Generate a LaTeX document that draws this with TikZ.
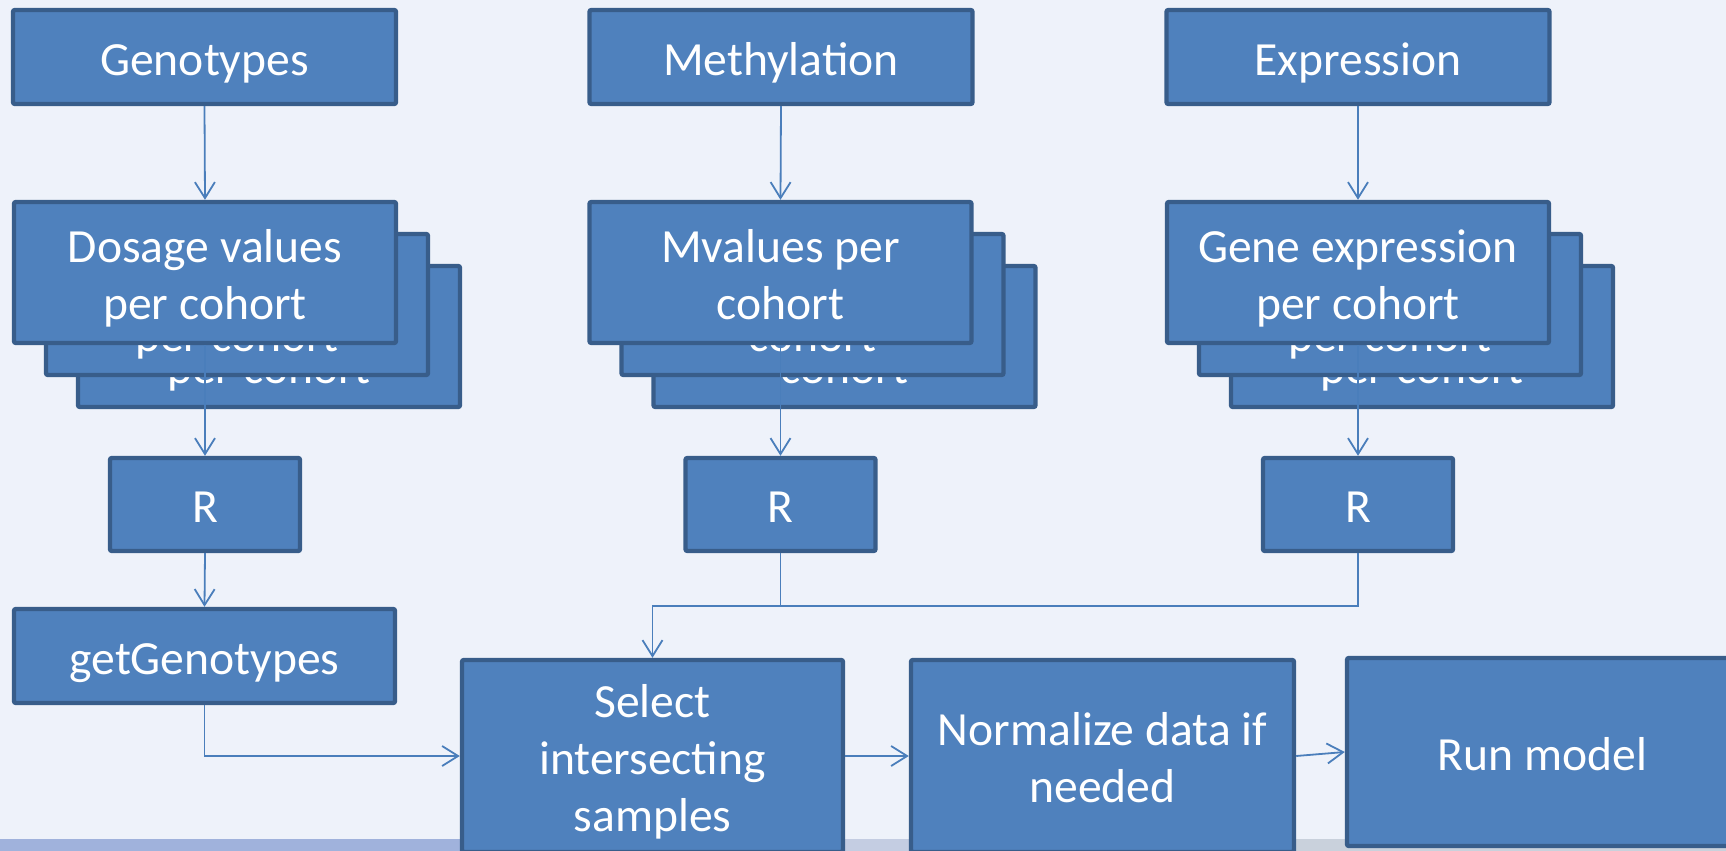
\documentclass[tikz,border=0pt]{standalone}
\usepackage{fontspec}
\setmainfont{Carlito}
\usetikzlibrary{arrows.meta}
\definecolor{bg}{HTML}{EEF2FA}
\definecolor{boxfill}{HTML}{4F81BD}
\definecolor{boxline}{HTML}{385D8A}
\definecolor{arr}{HTML}{4A7EBB}
\definecolor{bandL}{HTML}{A0B2DC}
\definecolor{bandM}{HTML}{C4CDE2}
\definecolor{bandR}{HTML}{C9D1DC}
\newcommand\mytop{\rule{0pt}{24.4pt}}
\newcommand\mybot{\rule[-6pt]{0pt}{6pt}}
\begin{document}
\begin{tikzpicture}[x=0.5pt,y=-0.5pt,
  box/.style={draw=boxline,fill=boxfill,line width=2.2pt,text=white,align=center,
    font=\fontsize{23.8}{28.5}\selectfont,inner sep=0pt,rounded corners=1pt},
  topbox/.style={box,minimum width=191.5pt,minimum height=47pt},
  midbox/.style={box,minimum width=191pt,minimum height=70.5pt},
  rbox/.style={box,minimum width=95pt,minimum height=46.5pt},
  bigbox/.style={box,minimum width=190.5pt,minimum height=96pt},
  conn/.style={draw=arr,line width=0.9pt,-{Straight Barb[length=8pt,width=10pt]}},
  connplain/.style={draw=arr,line width=0.9pt}
]
\useasboundingbox (0,0) rectangle (1726,851);
\clip (0,0) rectangle (1726,851);
\fill[bg] (0,0) rectangle (1726,851);
\fill[bandL] (0,839) rectangle (800,851);
\fill[bandM] (800,839) rectangle (1100,851);
\fill[bandR] (1100,839) rectangle (1726,851);

% top row
\node[topbox] (gen)  at (204.5,57) {\mytop Genotypes\mybot};
\node[topbox] (meth) at (781,57)   {\mytop Methylation\mybot};
\node[topbox] (expr) at (1358,57)  {\mytop Expression\mybot};

% stacked boxes
\node[midbox] (dosC) at (269,336.5) {\mytop Dosage values\\per cohort\mybot};
\node[midbox] (dosB) at (237,304.5) {\mytop Dosage values\\per cohort\mybot};
\node[midbox] (dos)  at (205,272.5) {\mytop Dosage values\\per cohort\mybot};

\node[midbox] (mvC) at (844.5,336.5) {\mytop Mvalues per\\cohort\mybot};
\node[midbox] (mvB) at (812.5,304.5) {\mytop Mvalues per\\cohort\mybot};
\node[midbox] (mv)  at (780.5,272.5) {\mytop Mvalues per\\cohort\mybot};

\node[midbox] (geC) at (1422,336.5) {\mytop Gene expression\\per cohort\mybot};
\node[midbox] (geB) at (1390,304.5) {\mytop Gene expression\\per cohort\mybot};
\node[midbox] (ge)  at (1358,272.5) {\mytop Gene expression\\per cohort\mybot};

% R boxes
\node[rbox] (rG) at (205,504.5)   {\mytop R\mybot};
\node[rbox] (rM) at (780.5,504.5) {\mytop R\mybot};
\node[rbox] (rE) at (1358,504.5)  {\mytop R\mybot};

\node[topbox,minimum width=190.5pt] (getG) at (204.5,656) {\mytop getGenotypes\mybot};

\node[bigbox] (sel)  at (652.5,756)  {\mytop Select\\intersecting\\samples\mybot};
\node[bigbox,minimum width=191.5pt] (norm) at (1102.5,756) {\mytop Normalize data if\\needed\mybot};
\node[bigbox,minimum width=195.5pt,minimum height=94pt] (run) at (1542.5,752) {\mytop Run model\mybot};

% connectors
\draw[conn] (gen.south) -- (dos.north);
\draw[conn] (dos.south) -- (rG.north);
\draw[conn] (rG.south) -- (getG.north);
\draw[conn] (getG.south) |- (sel.west);

\draw[conn] (meth.south) -- (mv.north);
\draw[conn] (mv.south) -- (rM.north);
\path (rM.south) ++(0,53) coordinate (jM);
\draw[conn] (rM.south) -- (jM) -| (sel.north);

\draw[conn] (expr.south) -- (ge.north);
\draw[conn] (ge.south) -- (rE.north);
\draw[connplain] (rE.south) |- (jM);

\draw[conn] (sel.east) -- (norm.west);
\draw[conn] (norm.east) -- (run.west);
\end{tikzpicture}
\end{document}
